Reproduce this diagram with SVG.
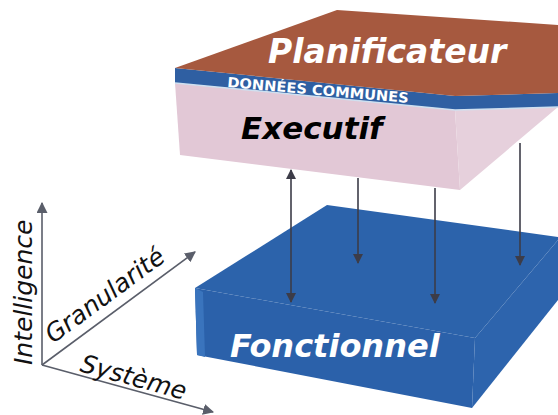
<svg xmlns="http://www.w3.org/2000/svg" width="558" height="415" viewBox="0 0 558 415">
<style>
.lbl{font-family:"DejaVu Sans",Verdana,sans-serif;font-style:oblique;font-weight:bold}
.ax{font-family:"DejaVu Sans",Verdana,sans-serif;font-style:oblique;font-size:25px;fill:#111}
.conn{stroke:#3c3c48;stroke-width:1.6;fill:none}
.axis{stroke:#5a5e6a;stroke-width:1.6;fill:none}
</style>
<defs>
<marker id="ah" viewBox="0 0 10 10" refX="9" refY="5" markerWidth="10" markerHeight="11" markerUnits="userSpaceOnUse" orient="auto-start-reverse">
<path d="M0,0 L10,5 L0,10 z" fill="#3c3c48"/>
</marker>
<marker id="ax" viewBox="0 0 10 10" refX="9" refY="5" markerWidth="11" markerHeight="11" markerUnits="userSpaceOnUse" orient="auto">
<path d="M0,0 L10,5 L0,10 z" fill="#5a5e6a"/>
</marker>
</defs>
<rect width="558" height="415" fill="#ffffff"/>

<g id="fonctionnel">
<polygon points="195,288 327,205 558,237 558,240 475,338" fill="#2c63ab"/>
<polygon points="475,338 558,240 558,300 472,408" fill="#2d64ad"/>
<polygon points="195,288 475,338 472,408 197,355" fill="#2b61aa"/>
<polygon points="195,288 203,292 205,357 197,355" fill="#3a74bd"/>
<text class="lbl" x="230" y="357" font-size="32" fill="#ffffff">Fonctionnel</text>
</g>

<g id="executif">
<polygon points="175,83 455,110 460,190 180,155" fill="#e2c8d6"/>
<polygon points="455,110 558,107 460,190" fill="#e6d0dc"/>
<text class="lbl" x="241" y="139" font-size="31" fill="#000000">Executif</text>
</g>

<g id="donnees">
<polygon points="175,68 455,96 558,93 558,107 455,110 175,83" fill="#2f5fa2"/>
<polyline points="175,83 455,110 558,107" stroke="#cfe0f0" stroke-width="1.5" fill="none"/>
<text class="lbl" font-size="14" fill="#ffffff" transform="translate(227,87) rotate(5)" textLength="182" lengthAdjust="spacingAndGlyphs" style="font-style:normal">DONNÉES COMMUNES</text>
</g>

<g id="planificateur">
<polygon points="175,68 337,10 558,25 558,93 455,96" fill="#a6593f"/>
<text class="lbl" x="268" y="63" font-size="33" fill="#ffffff">Planificateur</text>
</g>

<g id="connectors">
<line class="conn" x1="291" y1="170" x2="291" y2="302" marker-start="url(#ah)" marker-end="url(#ah)"/>
<line class="conn" x1="358" y1="178" x2="358" y2="263" marker-end="url(#ah)"/>
<line class="conn" x1="435" y1="188" x2="435" y2="303" marker-end="url(#ah)"/>
<line class="conn" x1="520" y1="143" x2="520" y2="265" marker-end="url(#ah)"/>
</g>

<g id="axes">
<line class="axis" x1="42" y1="365" x2="42" y2="203" marker-end="url(#ax)"/>
<line class="axis" x1="42" y1="365" x2="195" y2="252" marker-end="url(#ax)"/>
<line class="axis" x1="42" y1="365" x2="213" y2="412" marker-end="url(#ax)"/>
<text class="ax" transform="translate(32,365) rotate(-90)" font-size="26">Intelligence</text>
<text class="ax" transform="translate(53,344) rotate(-36.4)" font-size="26">Granularité</text>
<text class="ax" transform="translate(79,371) rotate(15.4)" font-size="26">Système</text>
</g>
</svg>
